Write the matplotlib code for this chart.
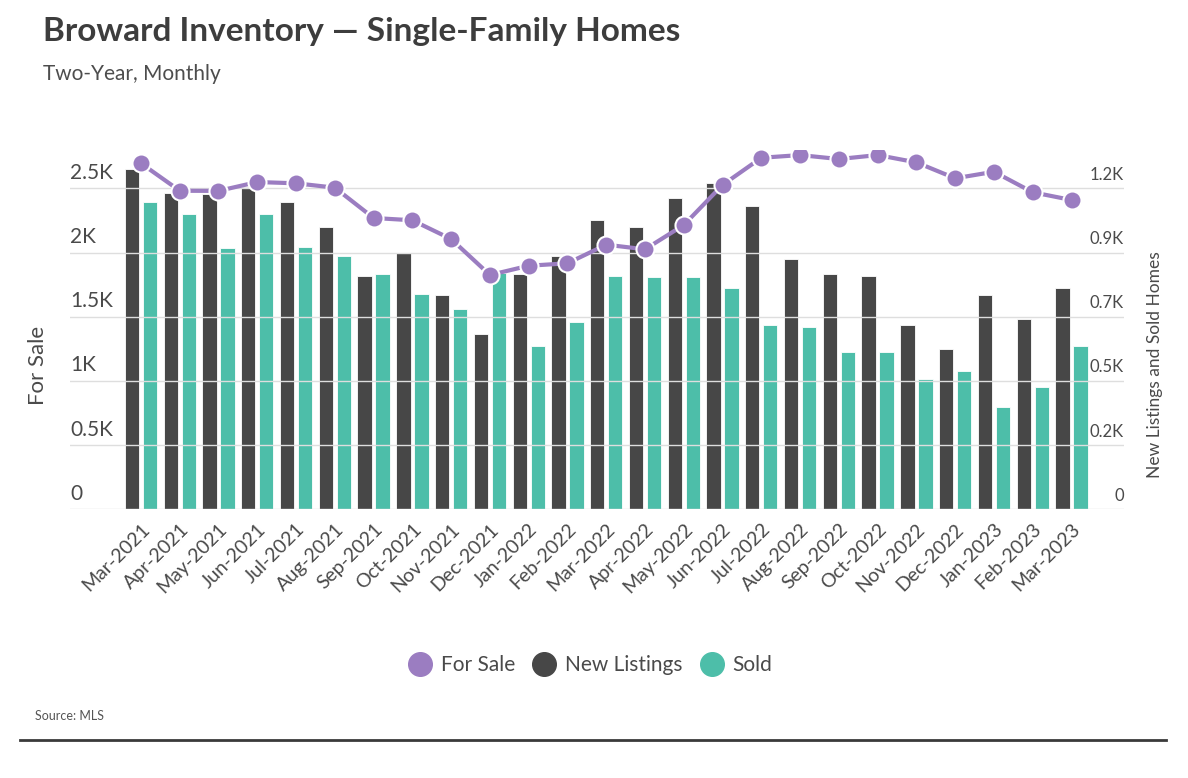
import matplotlib
matplotlib.use("Agg")
import matplotlib.pyplot as plt
from matplotlib.lines import Line2D
import numpy as np

months = ["Mar-2021", "Apr-2021", "May-2021", "Jun-2021", "Jul-2021", "Aug-2021",
          "Sep-2021", "Oct-2021", "Nov-2021", "Dec-2021", "Jan-2022", "Feb-2022",
          "Mar-2022", "Apr-2022", "May-2022", "Jun-2022", "Jul-2022", "Aug-2022",
          "Sep-2022", "Oct-2022", "Nov-2022", "Dec-2022", "Jan-2023", "Feb-2023",
          "Mar-2023"]
for_sale = [2695, 2481, 2480, 2549, 2539, 2505, 2269, 2251, 2105, 1825, 1897, 1916,
            2061, 2025, 2214, 2526, 2738, 2759, 2728, 2759, 2702, 2578, 2629, 2469, 2409]
new_listings = [1250, 1163, 1160, 1185, 1130, 1036, 858, 943, 787, 645, 864, 932,
                1064, 1036, 1146, 1201, 1114, 920, 865, 859, 678, 589, 787, 699, 815]
sold = [1130, 1086, 959, 1086, 965, 930, 865, 793, 738, 867, 601, 689,
        859, 854, 854, 815, 678, 672, 579, 579, 480, 507, 375, 450, 600]
left_ticks = [0, 500, 1000, 1500, 2000, 2500]
left_labels = ["0", "0.5K", "1K", "1.5K", "2K", "2.5K"]
right_labels = ["0", "0.2K", "0.5K", "0.7K", "0.9K", "1.2K"]
right_max_tick = 1180

FONT = "Lato"
plt.rcParams["font.family"] = [FONT, "DejaVu Sans"]

C_PURPLE = "#9b7dc1"
C_DARK = "#474747"
C_TEAL = "#4dbea9"
C_TEXT = "#4a4a4a"
C_GRID = "#dedede"

fig = plt.figure(figsize=(11.88, 7.78), dpi=100)
ax = fig.add_axes([70 / 1188, 1 - 509.3 / 778, (1124 - 70) / 1188, (509.3 - 149.8) / 778])
ax2 = ax.twinx()

ymax_left = 2800
ratio = right_max_tick / 2500
ax.set_ylim(0, ymax_left)
ax2.set_ylim(0, ymax_left * ratio)

x = np.arange(len(months))
ax.set_xlim(-1.83, len(months) - 1 + 1.354)

# grid lines (shared)
for t in left_ticks:
    ax.axhline(t, color=C_GRID, lw=1, zorder=0)

bw = 0.37
off = 0.232
ax2.bar(x - off, new_listings, width=bw, color=C_DARK, edgecolor="white", linewidth=0.6, zorder=2)
ax2.bar(x + off, sold, width=bw, color=C_TEAL, edgecolor="white", linewidth=0.6, zorder=2)

# put line axis on top
ax.set_zorder(ax2.get_zorder() + 1)
ax.patch.set_visible(False)
ax.plot(x, for_sale, color=C_PURPLE, lw=3, marker="o", markersize=13,
        markerfacecolor=C_PURPLE, markeredgecolor="white", markeredgewidth=1.5,
        zorder=5, solid_capstyle="round")

for a in (ax, ax2):
    for s in a.spines.values():
        s.set_visible(False)
    a.set_yticks([])
    a.tick_params(length=0)

ax.set_xticks(x)
ax.set_xticklabels(months, rotation=45, ha="right", rotation_mode="anchor",
                   fontsize=14, color=C_TEXT)
ax.tick_params(axis="x", pad=8, length=0)

# left tick labels above gridlines
for t, lab in zip(left_ticks, left_labels):
    ax.annotate(lab, xy=(0, t), xycoords=ax.get_yaxis_transform(),
                xytext=(0, 4), textcoords="offset points",
                ha="left", va="bottom", fontsize=15, color=C_TEXT)
# right tick labels above gridlines
for t, lab in zip(left_ticks, right_labels):
    ax.annotate(lab, xy=(1, t), xycoords=ax.get_yaxis_transform(),
                xytext=(0, 4), textcoords="offset points",
                ha="right", va="bottom", fontsize=12, color=C_TEXT)

fig.text(38 / 1188, 1 - 365 / 778, "For Sale", rotation=90, ha="center", va="center",
         fontsize=16, color=C_TEXT)
fig.text(1155 / 1188, 1 - 365 / 778, "New Listings and Sold Homes", rotation=90,
         ha="center", va="center", fontsize=12.5, color=C_TEXT)

fig.text(43 / 1188, 1 - 31 / 778, "Broward Inventory \u2014 Single-Family Homes",
         fontsize=24, fontweight="bold", color="#3d3d3d", ha="left", va="center")
fig.text(43 / 1188, 1 - 74 / 778, "Two-Year, Monthly", fontsize=15, color="#4d4d4d",
         ha="left", va="center")

handles = [Line2D([], [], ls="none", marker="o", markersize=17, color=c)
           for c in (C_PURPLE, C_DARK, C_TEAL)]
fig.legend(handles, ["For Sale", "New Listings", "Sold"], loc="center",
           bbox_to_anchor=(0.495, 1 - 665 / 778), ncol=3, frameon=False,
           fontsize=15, handletextpad=0.2, columnspacing=0.6, handlelength=1.6,
           labelcolor=C_TEXT)

fig.text(35 / 1188, 1 - 716 / 778, "Source: MLS", fontsize=9, color="#555555",
         ha="left", va="center")
fig.add_artist(Line2D([20 / 1188, 1166 / 1188], [1 - 740 / 778, 1 - 740 / 778],
                      color="#3a3a3a", lw=2))

fig.savefig("out.png", dpi=100)
